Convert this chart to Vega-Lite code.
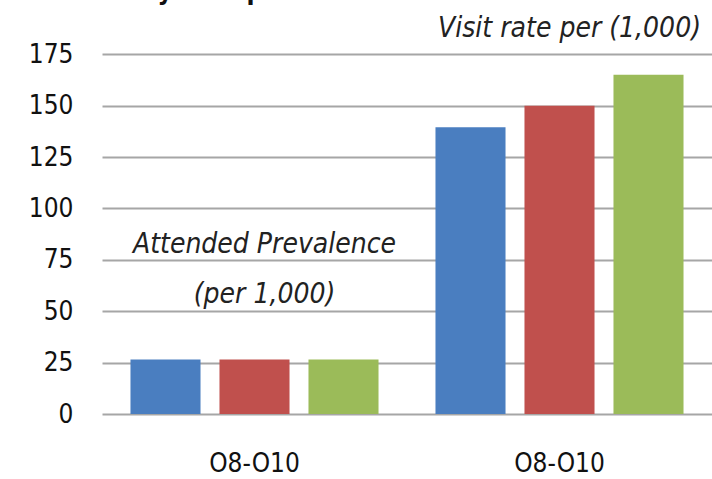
{
  "$schema": "https://vega.github.io/schema/vega-lite/v6.json",
  "autosize": "none",
  "width": 610,
  "height": 370,
  "padding": {"left": 102, "top": 44, "right": 0, "bottom": 65},
  "background": "white",
  "title": {
    "text": "Study - Outpatient care",
    "anchor": "start",
    "frame": "group",
    "font": "DejaVu Sans Condensed",
    "fontSize": 26,
    "fontWeight": "bold",
    "color": "#111111",
    "dx": -6,
    "offset": 11
  },
  "config": {
    "view": {"stroke": null},
    "font": "DejaVu Sans Condensed"
  },
  "datasets": {
    "bars": [
      {"group": "g1", "series": "A", "value": 26.5},
      {"group": "g1", "series": "B", "value": 26.5},
      {"group": "g1", "series": "C", "value": 26.5},
      {"group": "g2", "series": "A", "value": 139.5},
      {"group": "g2", "series": "B", "value": 150},
      {"group": "g2", "series": "C", "value": 165}
    ],
    "notes": [
      {"group": "g1", "value": 82, "label": "Attended Prevalence"},
      {"group": "g1", "value": 58, "label": "(per 1,000)"},
      {"group": "g2", "value": 187.5, "label": "Visit rate per (1,000)"}
    ]
  },
  "encoding": {
    "x": {
      "field": "group",
      "type": "nominal",
      "scale": {"paddingInner": 0, "paddingOuter": 0, "domain": ["g1", "g2"]},
      "axis": {
        "title": null,
        "labelExpr": "'O8-O10'",
        "labelAngle": 0,
        "labelFontSize": 26,
        "labelColor": "#111111",
        "labelPadding": 36,
        "domain": false,
        "ticks": false,
        "grid": false
      }
    }
  },
  "layer": [
    {
      "data": {"name": "bars"},
      "mark": {"type": "bar"},
      "encoding": {
        "xOffset": {
          "field": "series",
          "type": "nominal",
          "scale": {"paddingInner": 0.213, "paddingOuter": 0.32}
        },
        "y": {
          "field": "value",
          "type": "quantitative",
          "scale": {"domain": [0, 175]},
          "axis": {
            "title": null,
            "values": [0, 25, 50, 75, 100, 125, 150, 175],
            "labelFontSize": 26,
            "labelColor": "#111111",
            "labelPadding": 29,
            "domain": false,
            "ticks": false,
            "grid": true,
            "gridColor": "#a6a6a6",
            "gridWidth": 2
          }
        },
        "color": {
          "field": "series",
          "type": "nominal",
          "scale": {"range": ["#4a7ec0", "#c0504d", "#9bbb59"]},
          "legend": null
        }
      }
    },
    {
      "data": {"name": "notes"},
      "mark": {
        "type": "text",
        "font": "DejaVu Sans Condensed",
        "fontStyle": "italic",
        "fontSize": 28,
        "color": "#222222",
        "baseline": "middle",
        "dx": 10
      },
      "encoding": {
        "y": {"field": "value", "type": "quantitative"},
        "text": {"field": "label"}
      }
    }
  ]
}
